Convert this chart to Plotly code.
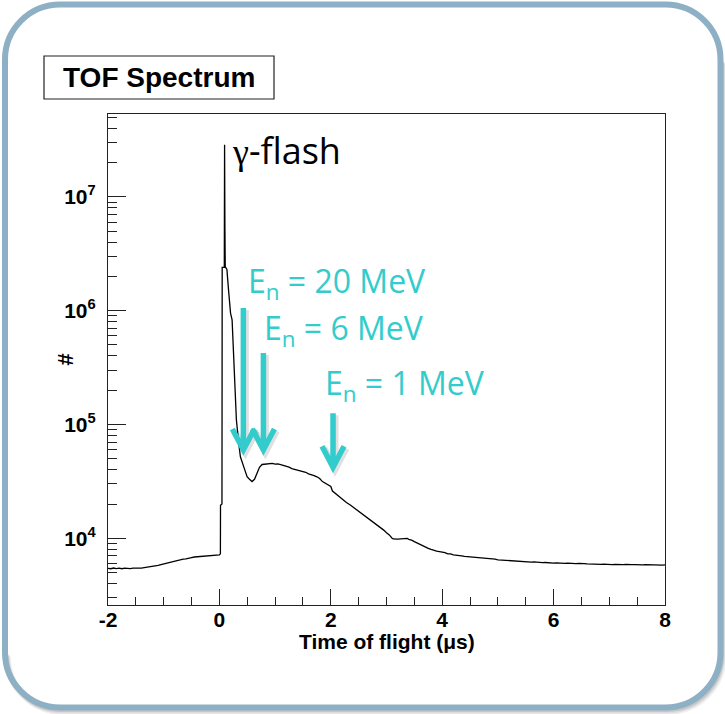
import numpy as np
import plotly.graph_objects as go

# ---------------- data ----------------
# time of flight (µs) and counts per bin
pre_tof = [
    -2.00, -1.95, -1.90, -1.85, -1.80, -1.75, -1.70, -1.65, -1.60, -1.55,
    -1.50, -1.45, -1.40, -1.35, -1.30, -1.25, -1.20, -1.15, -1.10, -1.05,
    -1.00, -0.95, -0.90, -0.85, -0.80, -0.75, -0.70, -0.65, -0.60, -0.55,
    -0.50, -0.45, -0.40, -0.35, -0.30, -0.25, -0.20, -0.15, -0.10, -0.05,
    0.00,
]
pre_counts = [
    5450, 5400, 5480, 5420, 5460, 5400, 5470, 5430, 5410, 5460,
    5440, 5490, 5470, 5520, 5560, 5600, 5660, 5720, 5790, 5870,
    5960, 6040, 6120, 6230, 6290, 6400, 6450, 6560, 6600, 6720,
    6760, 6850, 6880, 6950, 6970, 7040, 7010, 7090, 7060, 7120,
    7150,
]
flash_tof = [
    0.018, 0.020, 0.046, 0.050, 0.088, 0.093, 0.099, 0.105, 0.112, 0.135,
    0.140, 0.152, 0.165, 0.180, 0.200, 0.228, 0.246, 0.269, 0.287, 0.305,
    0.346, 0.377, 0.436, 0.497, 0.540, 0.587, 0.630, 0.676, 0.720, 0.766,
]
flash_counts = [
    7300, 19500, 20000, 2.4e6, 2.4e6, 2.86e7, 5.4e6, 2.4e6, 2.4e6, 2.3e6,
    1.9e6, 1.8e6, 1.5e6, 1.25e6, 9.5e5, 8.3e5, 5.5e5, 3.2e5, 1.9e5, 1.1e5,
    6.9e4, 5.2e4, 4.26e4, 3.48e4, 3.3e4, 3.15e4, 3.3e4, 3.72e4, 4.2e4, 4.45e4,
]
fast_tof = [
    0.80, 0.85, 0.90, 0.95, 1.00, 1.05, 1.10, 1.15, 1.20, 1.25,
    1.30, 1.35, 1.40, 1.45, 1.50, 1.55, 1.60, 1.65, 1.70, 1.75,
    1.80, 1.85, 1.90, 1.95, 2.00, 2.03, 2.08, 2.12, 2.17, 2.22,
    2.28, 2.35, 2.40, 2.45, 2.50, 2.55, 2.60, 2.65, 2.70, 2.75,
    2.80, 2.85, 2.90, 2.95, 3.00, 3.05, 3.10, 3.12, 3.20, 3.28,
    3.34, 3.37, 3.40, 3.45, 3.50, 3.55, 3.60, 3.66,
]
fast_counts = [
    4.47e4, 4.52e4, 4.50e4, 4.56e4, 4.49e4, 4.50e4, 4.44e4, 4.38e4, 4.33e4, 4.22e4,
    4.10e4, 4.04e4, 3.97e4, 3.93e4, 3.87e4, 3.80e4, 3.68e4, 3.64e4, 3.55e4, 3.47e4,
    3.35e4, 3.15e4, 3.05e4, 2.95e4, 2.85e4, 2.60e4, 2.48e4, 2.37e4, 2.27e4, 2.17e4,
    2.06e4, 1.96e4, 1.88e4, 1.80e4, 1.73e4, 1.67e4, 1.60e4, 1.53e4, 1.47e4, 1.41e4,
    1.35e4, 1.29e4, 1.24e4, 1.18e4, 1.12e4, 1.07e4, 1.00e4, 9870, 9850, 9880,
    9860, 10000, 9800, 9650, 9350, 9100, 8800, 8450,
]
tail_tof = [
    3.70, 3.75, 3.80, 3.85, 3.90, 3.95, 4.00, 4.05, 4.10, 4.15,
    4.20, 4.25, 4.30, 4.35, 4.40, 4.45, 4.50, 4.55, 4.60, 4.65,
    4.70, 4.75, 4.80, 4.85, 4.90, 4.95, 5.00, 5.05, 5.10, 5.15,
    5.20, 5.25, 5.30, 5.35, 5.40, 5.45, 5.50, 5.55, 5.60, 5.65,
    5.70, 5.75, 5.80, 5.85, 5.90, 5.95, 6.00, 6.05, 6.10, 6.15,
    6.20, 6.25, 6.30, 6.35, 6.40, 6.45, 6.50, 6.55, 6.60, 6.65,
    6.70, 6.75, 6.80, 6.85, 6.90, 6.95, 7.00, 7.05, 7.10, 7.15,
    7.20, 7.25, 7.30, 7.35, 7.40, 7.45, 7.50, 7.55, 7.60, 7.65,
    7.70, 7.75, 7.80, 7.85, 7.90, 7.95, 8.00,
]
tail_counts = [
    8300, 8150, 7980, 7900, 7700, 7620, 7560, 7480, 7300, 7290,
    7150, 7130, 7020, 7000, 6930, 6900, 6850, 6800, 6790, 6700,
    6730, 6640, 6620, 6600, 6530, 6550, 6470, 6440, 6460, 6380,
    6360, 6330, 6340, 6280, 6260, 6290, 6220, 6230, 6180, 6200,
    6150, 6170, 6110, 6130, 6090, 6120, 6060, 6080, 6040, 6090,
    6020, 6040, 6000, 6050, 5990, 6010, 5960, 6000, 5950, 5930,
    5970, 5920, 5950, 5900, 5930, 5890, 5920, 5870, 5910, 5880,
    5900, 5860, 5890, 5850, 5880, 5870, 5840, 5880, 5830, 5860,
    5840, 5820, 5860, 5810, 5840, 5800, 5830,
]
tof_us = pre_tof + flash_tof + fast_tof + tail_tof
counts = pre_counts + flash_counts + fast_counts + tail_counts

# neutron-energy markers: label, arrival time (µs), count level at arrow tip
marker_labels = ["E<sub>n</sub> = 20 MeV", "E<sub>n</sub> = 6 MeV", "E<sub>n</sub> = 1 MeV"]
marker_tof_us = [0.43, 0.79, 2.04]
marker_counts = [5.4e4, 5.4e4, 3.8e4]

x_tick_vals = [-2, 0, 2, 4, 6, 8]
x_tick_text = ["-2", "0", "2", "4", "6", "8"]
x_minor_vals = [-1.5, -1, -0.5, 0.5, 1, 1.5, 2.5, 3, 3.5, 4.5, 5, 5.5, 6.5, 7, 7.5]
y_tick_vals = [1e4, 1e5, 1e6, 1e7]
y_tick_text = ["10<sup>4</sup>", "10<sup>5</sup>", "10<sup>6</sup>", "10<sup>7</sup>"]

# ---------------- page geometry ----------------
W, H = 725, 714
ML, MR, MT, MB = 108, 60, 114, 109
PW, PH = W - ML - MR, H - MT - MB


def fx(px):
    return (px - ML) / PW


def fy(py):
    return (H - MB - py) / PH


def rounded_path(l, t, r, b, rad, dx=0.0, dy=0.0, closed=True):
    k = 0.5523 * rad
    l, r, t, b = l + dx, r + dx, t + dy, b + dy

    def p(x, y):
        return f"{fx(x):.5f},{fy(y):.5f}"

    if closed:
        return (
            f"M{p(l + rad, t)} L{p(r - rad, t)} "
            f"C{p(r - rad + k, t)} {p(r, t + rad - k)} {p(r, t + rad)} "
            f"L{p(r, b - rad)} "
            f"C{p(r, b - rad + k)} {p(r - rad + k, b)} {p(r - rad, b)} "
            f"L{p(l + rad, b)} "
            f"C{p(l + rad - k, b)} {p(l, b - rad + k)} {p(l, b - rad)} "
            f"L{p(l, t + rad)} "
            f"C{p(l, t + rad - k)} {p(l + rad - k, t)} {p(l + rad, t)} Z"
        )
    return (
        f"M{p(r, t + rad)} L{p(r, b - rad)} "
        f"C{p(r, b - rad + k)} {p(r - rad + k, b)} {p(r - rad, b)} "
        f"L{p(l + rad, b)} "
        f"C{p(l + rad - k, b)} {p(l, b - rad + k)} {p(l, b - rad)}"
    )


ROOT_FONT = "Liberation Sans, Arial, Helvetica, sans-serif"
NOTE_FONT = "Open Sans, Lato, sans-serif"
TEAL = "#33CCCC"
FRAME = "#222222"

fig = go.Figure()
fig.add_trace(go.Scatter(
    x=tof_us, y=counts, mode="lines",
    line=dict(color="black", width=1.3),
    hoverinfo="skip", showlegend=False,
))

shapes = []
# slide-style rounded frame with a soft shadow
for off, wdt, alpha in [(4, 7, 0.06), (3, 6, 0.08), (2, 5, 0.10)]:
    shapes.append(dict(
        type="path", xref="paper", yref="paper",
        path=rounded_path(5, 4.5, 720.5, 707.5, 55, dx=off * 0.6, dy=off, closed=False),
        line=dict(color=f"rgba(0,0,0,{alpha})", width=wdt), layer="below",
    ))
shapes.append(dict(
    type="path", xref="paper", yref="paper",
    path=rounded_path(5, 4.5, 720.5, 707.5, 55),
    line=dict(color="#8EB0C4", width=6), layer="below",
))
# histogram title box
shapes.append(dict(
    type="rect", xref="paper", yref="paper",
    x0=fx(44), x1=fx(274), y0=fy(99), y1=fy(56),
    line=dict(color=FRAME, width=1.2), fillcolor="white",
))

# energy arrows: shaft plus open chevron head, sized in pixels
arrow_len = [147, 102, 59]
for xt, yt, ln in zip(marker_tof_us, marker_counts, arrow_len):
    shapes.append(dict(
        type="path", xref="x", yref="y",
        xsizemode="pixel", ysizemode="pixel", xanchor=xt, yanchor=yt,
        path=f"M2,{ln - 2} L2,4 M-9,24 L2,3 L13,24",
        line=dict(color="rgba(0,0,0,0.12)", width=7),
    ))
    shapes.append(dict(
        type="path", xref="x", yref="y",
        xsizemode="pixel", ysizemode="pixel", xanchor=xt, yanchor=yt,
        path=f"M0,{ln} L0,6 M-11,26 L0,5 L11,26",
        line=dict(color=TEAL, width=5.5),
    ))

annotations = []
annotations.append(dict(
    x=fx(158.5), y=fy(77), xref="paper", yref="paper",
    text="TOF Spectrum", showarrow=False, xanchor="center", yanchor="middle",
    font=dict(family=ROOT_FONT, size=28, color="black", weight="bold"),
))
# y axis title
annotations.append(dict(
    x=fx(65), y=0.5, xref="paper", yref="paper",
    text="#", showarrow=False, textangle=-90, xanchor="center", yanchor="middle",
    font=dict(family=ROOT_FONT, size=22, color="black", weight="bold"),
))
# x axis title
annotations.append(dict(
    x=0.5, y=fy(641), xref="paper", yref="paper",
    text="Time of flight (\u03bcs)", showarrow=False, xanchor="center", yanchor="middle",
    font=dict(family=ROOT_FONT, size=21, color="black", weight="bold"),
))
# gamma flash label next to the peak
i_peak = int(np.argmax(counts))
annotations.append(dict(
    x=tof_us[i_peak], y=np.log10(counts[i_peak]), xref="x", yref="y",
    text="<span style=\"font-family:Liberation Serif\">\u03b3</span>-flash",
    showarrow=False, xanchor="left", yanchor="top",
    xshift=5, yshift=21,
    font=dict(family=NOTE_FONT, size=36, color="black"),
))
label_xshift = [3, -1, -10]
label_yshift = [146, 99, 61]
for lab, xt, yt, xs, ys in zip(marker_labels, marker_tof_us, marker_counts,
                               label_xshift, label_yshift):
    annotations.append(dict(
        x=xt, y=np.log10(yt), xref="x", yref="y",
        text=lab, showarrow=False, xanchor="left", yanchor="bottom",
        xshift=xs, yshift=ys,
        font=dict(family=NOTE_FONT, size=32, color=TEAL),
    ))

y_minor = [m * 10 ** e for e in range(3, 8) for m in range(2, 10)
           if 2594 <= m * 10 ** e <= 5.3e7]

fig.update_layout(
    width=W, height=H,
    margin=dict(l=ML, r=MR, t=MT, b=MB, pad=0),
    paper_bgcolor="white", plot_bgcolor="white",
    shapes=shapes, annotations=annotations, showlegend=False,
    xaxis=dict(
        range=[-2, 8], tickmode="array", tickvals=x_tick_vals, ticktext=x_tick_text,
        ticks="inside", ticklen=16, tickwidth=1, tickcolor=FRAME,
        minor=dict(tickmode="array", tickvals=x_minor_vals, ticks="inside",
                   ticklen=8, tickwidth=1, tickcolor=FRAME, showgrid=False),
        showline=True, mirror=True, linecolor=FRAME, linewidth=1.2,
        showgrid=False, zeroline=False, ticklabelstandoff=-4,
        tickfont=dict(family=ROOT_FONT, size=21, color="black", weight="bold"),
    ),
    yaxis=dict(
        type="log", range=[np.log10(2594), np.log10(5.34e7)],
        tickmode="array", tickvals=y_tick_vals, ticktext=y_tick_text,
        ticks="inside", ticklen=18, tickwidth=1, tickcolor=FRAME,
        minor=dict(tickmode="array", tickvals=y_minor, ticks="inside",
                   ticklen=9, tickwidth=1, tickcolor=FRAME, showgrid=False),
        showline=True, mirror=True, linecolor=FRAME, linewidth=1.2,
        showgrid=False, zeroline=False, ticklabelstandoff=7,
        tickfont=dict(family=ROOT_FONT, size=21, color="black", weight="bold"),
    ),
)

fig.write_html("out.html")
